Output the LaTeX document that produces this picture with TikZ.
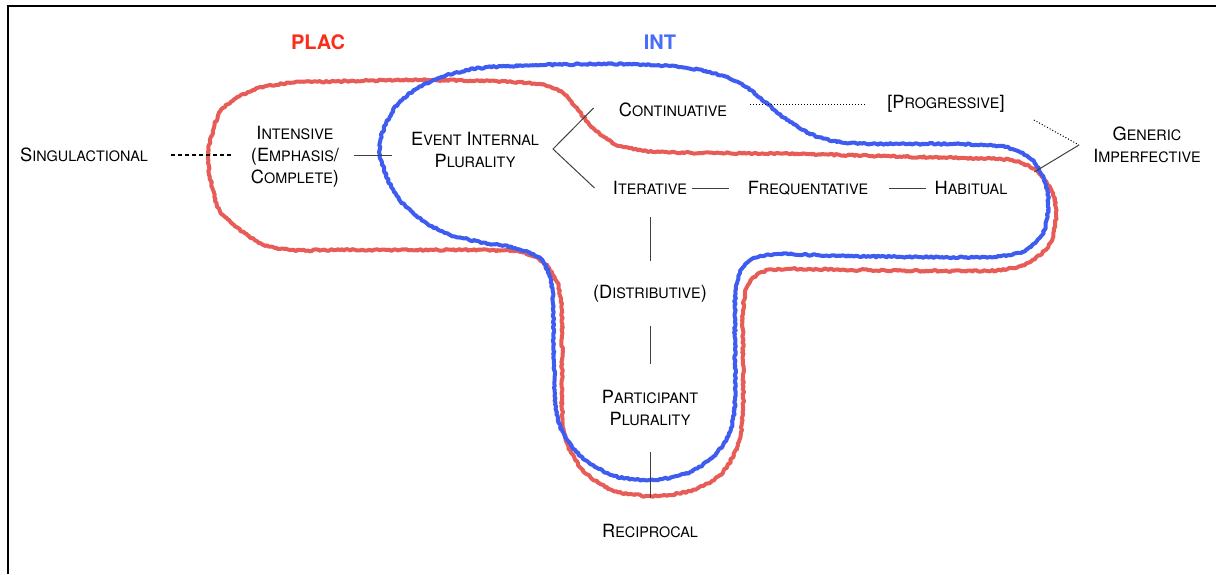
\documentclass[tikz,border=0pt]{standalone}
\usepackage{fontspec}
\setmainfont{TeX Gyre Heros}
\usetikzlibrary{decorations.pathmorphing}
\definecolor{placred}{RGB}{232,92,88}
\definecolor{intblue}{RGB}{62,92,240}
\definecolor{plactext}{RGB}{250,45,25}
\definecolor{inttext}{RGB}{70,110,250}
\newcommand\sk[2]{#1{\fontsize{7.2}{11}\selectfont #2}}

\begin{document}
\begin{tikzpicture}[x=0.5pt, y=-0.5pt,
    lbl/.style={inner sep=0pt, align=center, font=\fontsize{9.1}{11}\selectfont},
    blob/.style={line width=2pt, line join=round, decorate,
        decoration={random steps, segment length=1pt, amplitude=0.45pt}},
    lnk/.style={draw=black!75, line width=0.5pt},
    dots/.style={draw=black, line width=0.5pt, dash pattern=on 0.5pt off 1pt},
    dsh/.style={draw=black, line width=0.6pt, dash pattern=on 2pt off 1.5pt}]
    \useasboundingbox (0,0) rectangle (1216,574);
    \draw[line width=1pt] (8,574) -- (8,6) -- (1216,6);

    \draw[blob, placred] plot[smooth cycle] coordinates {
        (208,158) (213,130) (223,108) (253,90) (290,83) (350,81) (420,80) (490,81)
        (540,84) (563,93) (578,110) (595,130) (620,146) (660,152) (720,153) (800,154)
        (880,156) (960,158) (1010,160) (1038,172) (1053,195) (1056,215) (1050,243)
        (1030,262) (1000,270) (940,271) (860,270) (790,269) (762,272) (748,285)
        (743,310) (743,360) (743,410) (738,445) (720,475) (690,491) (650,496)
        (612,490) (583,470) (567,443) (562,410) (562,360) (562,310) (557,282)
        (543,262) (520,252) (470,250) (400,250) (330,250) (290,250) (258,242)
        (223,215) (213,190)};
    \draw[blob, intblue] plot[smooth cycle] coordinates {
        (380,155) (384,128) (398,104) (418,88) (445,76) (480,68) (540,65) (610,64)
        (670,66) (710,72) (742,84) (765,102) (790,122) (818,137) (850,143) (900,144)
        (960,144) (1005,147) (1032,160) (1046,185) (1048,210) (1042,235) (1022,252)
        (990,257) (920,257) (840,256) (780,254) (752,259) (739,275) (735,300)
        (735,350) (735,400) (730,432) (712,458) (685,474) (650,480) (615,476)
        (585,460) (565,437) (556,410) (554,360) (553,310) (551,280) (540,258)
        (515,248) (480,242) (445,233) (415,215) (394,192)};

    \node[lbl, font=\fontsize{10}{12}\selectfont\bfseries, text=plactext] (plac) at (318,42) {PLAC};
    \node[lbl, font=\fontsize{10}{12}\selectfont\bfseries, text=inttext] (int) at (660,42) {INT};

    \node[lbl] (sing) at (84,155) {\sk{S}{INGULACTIONAL}};
    \node[lbl] (intens) at (295,157) {\sk{I}{NTENSIVE}\\(\sk{E}{MPHASIS}/\\\sk{C}{OMPLETE})};
    \node[lbl] (event) at (475,150) {\sk{E}{VENT} \sk{I}{NTERNAL}\\\sk{P}{LURALITY}};
    \node[lbl] (conti) at (673,110) {\sk{C}{ONTINUATIVE}};
    \node[lbl] (prog) at (946,104) {[\sk{P}{ROGRESSIVE}]};
    \node[lbl] (generic) at (1147,145) {\sk{G}{ENERIC}\\\sk{I}{MPERFECTIVE}};
    \node[lbl] (iter) at (650,188) {\sk{I}{TERATIVE}};
    \node[lbl] (freq) at (808,188) {\sk{F}{REQUENTATIVE}};
    \node[lbl] (habit) at (971,188) {\sk{H}{ABITUAL}};
    \node[lbl] (distrib) at (650,294) {(\sk{D}{ISTRIBUTIVE})};
    \node[lbl] (partic) at (650,408) {\sk{P}{ARTICIPANT}\\\sk{P}{LURALITY}};
    \node[lbl] (recip) at (650,531) {\sk{R}{ECIPROCAL}};

    \coordinate (fork) at (553,149);
    \coordinate (elbow) at (1079,145);

    \draw[dsh, shorten <=11.5pt, shorten >=10pt] (sing.east) -- (sing.east -| intens.west);
    \draw[lnk, shorten <=7.5pt, shorten >=9.5pt] (intens.east |- sing.east) -- (sing.east -| event.west);
    \draw[lnk] ([xshift=-12.5pt,yshift=1pt]conti.west) -- (fork) -- ([xshift=-9pt]iter.west);
    \draw[dots, shorten <=11.5pt, shorten >=10.5pt] (conti.east |- prog.west) -- (prog.west);
    \draw[dots, shorten <=16.5pt] (prog.east) -- (elbow);
    \draw[lnk, shorten >=15.5pt] (elbow) -- (habit.east);
    \draw[lnk, shorten <=2.5pt, shorten >=9pt] (iter) -- (freq);
    \draw[lnk, shorten <=10pt, shorten >=4pt] (freq) -- (habit);
    \draw[lnk, shorten <=11pt, shorten >=12pt] (iter.south) -- (distrib.north);
    \draw[lnk, shorten <=11.5pt, shorten >=13pt] (distrib.south) -- (partic.north);
    \draw[lnk, shorten <=13pt, shorten >=13pt] (partic.south) -- (recip.north);
\end{tikzpicture}
\end{document}
